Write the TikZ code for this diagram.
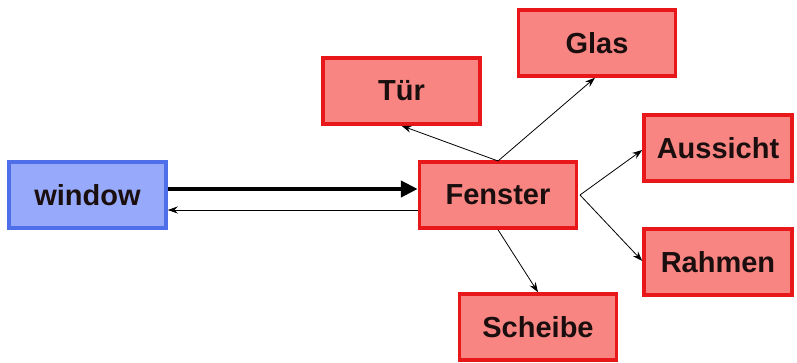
\documentclass[tikz,border=0pt]{standalone}
\usepackage{fontspec}
\setmainfont{Liberation Sans}
\usetikzlibrary{arrows.meta}
\definecolor{bfill}{HTML}{97A9FA}
\definecolor{bdraw}{HTML}{4F6FEA}
\definecolor{rfill}{HTML}{F88582}
\definecolor{rdraw}{HTML}{E8181A}
\definecolor{txt}{HTML}{1A0E0E}
\begin{document}
\begin{tikzpicture}[x=1pt,y=-1pt,
  box/.style={draw=rdraw,fill=rfill,line width=3.5pt,minimum width=157pt,minimum height=66pt,inner sep=0pt,text=txt,font=\fontsize{29}{34}\selectfont\bfseries},
  bbox/.style={box,draw=bdraw,fill=bfill},
  thin/.style={-{Stealth[length=10pt,width=7pt]},line width=0.8pt},
  thick/.style={-{Triangle[length=17pt,width=16pt]},line width=4.5pt}]
\useasboundingbox (0,0) rectangle (797,363);
\node[bbox] (win) at (87.5,195) {window};
\node[box] (fen) at (498,195) {Fenster};
\node[box] (tur) at (401.5,91) {Tür};
\node[box] (glas) at (597,43) {Glas};
\node[box,minimum width=148pt] (aus) at (718,148) {Aussicht};
\node[box,minimum width=148pt] (rah) at (718,262) {Rahmen};
\node[box] (sch) at (538,327) {Scheibe};
\draw[thick] (win.east |- 0,189) -- (fen.west |- 0,189);
\draw[thin] (fen.west |- 0,210) -- (win.east |- 0,210);
\coordinate (ft) at (498,161);
\draw[thin] (ft) -- (tur.south);
\draw[thin] (ft) -- ([xshift=-2pt]glas.south);
\coordinate (fr) at (580,195);
\draw[thin] (fr) -- (aus.west |- 0,150);
\draw[thin] (fr) -- (rah.west |- 0,261);
\draw[thin] (fen.south) -- (sch.north);
\end{tikzpicture}
\end{document}
